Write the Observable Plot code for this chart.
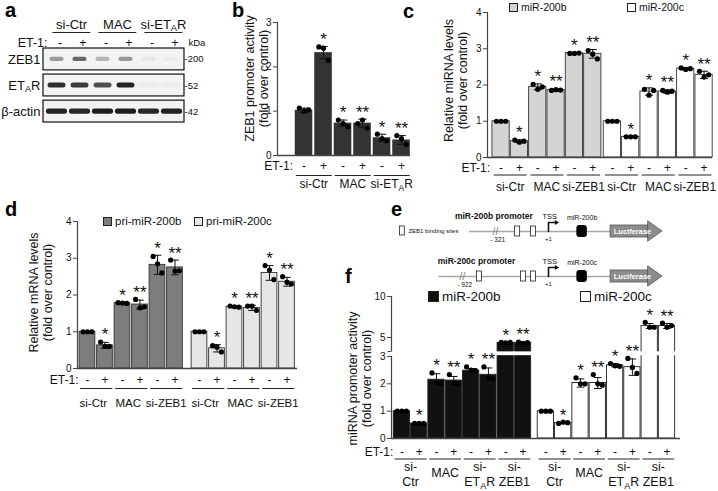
<!DOCTYPE html>
<html><head><meta charset="utf-8">
<script src="https://cdn.jsdelivr.net/npm/d3@7"></script>
<script src="https://cdn.jsdelivr.net/npm/@observablehq/plot@0.6"></script>
<style>
body{margin:0;background:#fff;}
#fig{position:relative;width:718px;height:491px;overflow:hidden;font-family:"Liberation Sans",Arial,sans-serif;background:#fff;}
#fig > svg{position:absolute;left:0;top:0;}
.lt{position:absolute;font-weight:bold;font-size:20px;line-height:20px;}
.lg{position:absolute;display:flex;align-items:center;white-space:nowrap;color:#111;}
.sw{display:inline-block;border:1px solid #222;box-sizing:border-box;margin-right:3px;}
</style></head><body><div id="fig"></div>
<script>
const W = 718, H = 491;
const FONT = '"Liberation Sans", Arial, sans-serif';
const signs = ["-", "+"];

// ---------- panel a : western blot ----------
const blotGroups = ["si-Ctr", "MAC", "si-ET_AR"];
const blotSigns = ["-", "+", "-", "+", "-", "+"];
const blotRows = ["ZEB1", "ET_AR", "β-actin"];
const blotKDa = ["200", "52", "42"];
const zeb1Band = [0.40, 0.62, 0.28, 0.40, 0.05, 0.04];
const etarBand = [0.88, 0.82, 0.72, 0.92, 0.03, 0.03];
const actinBand = [0.92, 0.90, 0.95, 0.95, 0.90, 0.92];
const bandWidth = [0.62, 0.78, 0.92];

// ---------- panel b ----------
const bGroups = ["si-Ctr", "MAC", "si-ET_AR"];
const bMean = [1.02, 2.32, 0.73, 0.73, 0.40, 0.35];
const bSD = [0.05, 0.14, 0.07, 0.09, 0.08, 0.10];
const bDots = [[1.07, 1.00, 1.03], [2.45, 2.42, 2.15], [0.80, 0.72, 0.65], [0.72, 0.80, 0.62], [0.48, 0.38, 0.33], [0.45, 0.38, 0.25]];
const bStars = ["", "*", "*", "**", "*", "**"];

// ---------- panel c ----------
const cGroups = ["si-Ctr", "MAC", "si-ZEB1"];
const c200bMean = [1.0, 0.45, 1.95, 1.86, 2.88, 2.86];
const c200bSD = [0, 0.04, 0.08, 0.03, 0.02, 0.12];
const c200bDots = [[1, 1, 1], [0.48, 0.42, 0.45], [2.02, 1.88, 1.95], [1.85, 1.87, 1.86], [2.87, 2.87, 2.88], [2.95, 2.85, 2.72]];
const c200bStars = ["", "*", "*", "**", "*", "**"];
const c200cMean = [1.0, 0.57, 1.82, 1.82, 2.45, 2.28];
const c200cSD = [0, 0.02, 0.1, 0.05, 0.03, 0.1];
const c200cDots = [[1, 1, 1], [0.57, 0.57, 0.57], [1.88, 1.72, 1.85], [1.85, 1.80, 1.83], [2.47, 2.43, 2.45], [2.38, 2.22, 2.28]];
const c200cStars = ["", "*", "*", "**", "*", "**"];

// ---------- panel d ----------
const dGroups = ["si-Ctr", "MAC", "si-ZEB1"];
const dPri200bMean = [1.0, 0.63, 1.78, 1.74, 2.82, 2.75];
const dPri200bSD = [0, 0.08, 0.02, 0.12, 0.26, 0.2];
const dPri200bDots = [[1, 1, 1], [0.72, 0.60, 0.60], [1.79, 1.78, 1.77], [1.88, 1.65, 1.68], [3.05, 2.85, 2.60], [2.95, 2.65, 2.66]];
const dPri200bStars = ["", "*", "*", "**", "*", "**"];
const dPri200cMean = [1.0, 0.55, 1.68, 1.65, 2.60, 2.36];
const dPri200cSD = [0, 0.1, 0.02, 0.07, 0.2, 0.12];
const dPri200cDots = [[1, 1, 1], [0.62, 0.58, 0.45], [1.70, 1.68, 1.67], [1.70, 1.70, 1.58], [2.80, 2.68, 2.42], [2.50, 2.35, 2.30]];
const dPri200cStars = ["", "*", "*", "**", "*", "**"];

// ---------- panel f ----------
const fGroups = ["si-Ctr", "MAC", "si-ET_AR", "si-ZEB1"];
const f200bMean = [1.0, 0.55, 2.15, 2.12, 2.48, 2.33, 4.35, 4.35];
const f200bSD = [0, 0.02, 0.22, 0.15, 0.08, 0.25, 0.06, 0.08];
const f200bDots = [[1, 1, 1], [0.55, 0.55, 0.55], [2.40, 2.05, 2.02], [2.34, 2.02, 2.00], [2.62, 2.50, 2.48], [2.62, 2.20, 2.18], [4.40, 4.35, 4.42], [4.45, 4.30, 4.38]];
const f200bStars = ["", "*", "*", "**", "*", "**", "*", "**"];
const f200cMean = [1.0, 0.57, 2.03, 2.03, 2.68, 2.61, 6.4, 6.4];
const f200cSD = [0, 0.03, 0.15, 0.2, 0.06, 0.3, 0.3, 0.3];
const f200cDots = [[1, 1, 1], [0.55, 0.60, 0.58], [2.22, 2.00, 2.00], [2.34, 2.00, 1.95], [2.74, 2.66, 2.64], [2.93, 2.60, 2.38], [6.85, 6.25, 6.25], [6.75, 6.25, 6.45]];
const f200cStars = ["", "*", "*", "**", "*", "**", "*", "**"];
const fTickValues = [0, 1, 2, 3, 5, 10];

// ---------- panel e (schematic) ----------
const eConstructs = ["miR-200b", "miR-200c"];
const ePromStart = ["- 321", "- 922"];
const eRowY = [31, 76];
const eLineFrom = [29.5, 19.3];
const eBreakAt = [38.3, 27.3];
const eSites = [[45.7, 51.0], [33.0, 47.7, 51.0]];
const ePromLabelX = [37.8, 32];
const eTSS = 56, eMiR = 67.2, eLucFrom = 76.7, eLucTo = 89.3, eLucTip = 94;

// ================= helpers =================
const fig = document.getElementById("fig");
function subify(svg) {
  const NS = "http://www.w3.org/2000/svg";
  svg.querySelectorAll("text, tspan").forEach(t => {
    if (t.childElementCount === 0 && t.textContent.includes("_A")) {
      const parts = t.textContent.split("_A");
      t.textContent = parts[0];
      const a = document.createElementNS(NS, "tspan");
      a.setAttribute("dy", "2.5"); a.style.fontSize = "72%"; a.textContent = "A";
      const r = document.createElementNS(NS, "tspan");
      r.setAttribute("dy", "-2.5"); r.textContent = parts[1];
      t.append(a, r);
    }
  });
}
function addPlot(opts) {
  const svg = Plot.plot(Object.assign({
    width: W, height: H,
    style: {background: "transparent", fontFamily: FONT, fontSize: "10px", overflow: "visible", color: "#111"},
    color: {type: "identity"}
  }, opts));
  subify(svg);
  fig.appendChild(svg);
  return svg;
}
function addDiv(cls, html, css) {
  const d = document.createElement("div");
  d.className = cls; d.innerHTML = html;
  Object.assign(d.style, css);
  fig.appendChild(d);
}

function barPanel(c) {
  const tf = c.tf || (v => v);
  const R = [], D = [], G = [];
  c.series.forEach((s, si) => {
    const n = s.mean.length;
    const off = si * (n + c.gap);
    s.mean.forEach((m, i) => {
      const pos = off + i;
      const top = Math.max(m + s.sd[i], ...s.dots[i]);
      R.push({pos, mean: m, sd: s.sd[i], star: s.stars[i], fill: s.fill, top, sign: signs[i % 2]});
      s.dots[i].forEach((v, k) => D.push({x: pos + (k - 1) * c.spread, v}));
    });
    c.groups.forEach((g, gi) => G.push({p0: off + 2 * gi, p1: off + 2 * gi + 1, label: g, gi}));
  });
  const bw = c.bw, cw = c.cap;
  const ml = c.m[3], mt = c.m[0], mb = c.m[2];
  const frameMid = mt + (H - mt - mb) / 2;
  const E = R.filter(d => d.sd > 0);
  const labDx = c.labDx || [0, 0, 0, 0];
  const marks = [
    Plot.rect(R, {x1: d => d.pos - bw / 2, x2: d => d.pos + bw / 2, y1: () => 0, y2: d => tf(d.mean),
      fill: d => d.fill, stroke: c.barStroke || "none", strokeWidth: 0.9}),
  ];
  if (c.breakGap) {
    marks.push(Plot.rect(R.filter(d => d.mean > 3), {x1: d => d.pos - bw / 2 - 0.06, x2: d => d.pos + bw / 2 + 0.06,
      y1: () => c.breakGap[0], y2: () => c.breakGap[1], fill: "#fff"}));
  }
  marks.push(
    Plot.ruleX(E, {x: "pos", y1: d => tf(d.mean - d.sd), y2: d => tf(d.mean + d.sd), stroke: "#111", strokeWidth: 1}),
    Plot.link(E, {x1: d => d.pos - cw, x2: d => d.pos + cw, y1: d => tf(d.mean + d.sd), y2: d => tf(d.mean + d.sd), stroke: "#111", strokeWidth: 1}),
    Plot.link(E, {x1: d => d.pos - cw, x2: d => d.pos + cw, y1: d => tf(d.mean - d.sd), y2: d => tf(d.mean - d.sd), stroke: "#111", strokeWidth: 1}),
    Plot.dot(D, {x: "x", y: d => tf(d.v), r: c.r, fill: "#000", stroke: "none"}),
    Plot.text(R.filter(d => d.star), {x: "pos", y: d => tf(d.top), text: "star", fontSize: 17, dy: -7}),
    Plot.ruleY([0], {stroke: "#444", strokeWidth: 1.3}),
    Plot.ruleX(c.axisSegs, {x: () => c.xDomain[0], y1: d => d[0], y2: d => d[1], stroke: "#444", strokeWidth: 1.2}),
    Plot.axisY({ticks: c.ticks, tickFormat: c.tickFormat || (v => String(v)), tickSize: 4, tickPadding: 2, fontSize: 10, label: null, stroke: "#444"}),
    // x annotation rows
    Plot.text(R, {x: "pos", y: () => 0, text: "sign", dy: c.dyEt, fontSize: 12}),
    Plot.text(["ET-1:"], {x: () => 0, y: () => 0, text: d => d, textAnchor: "end", dx: c.etDx, dy: c.dyEt, fontSize: 12}),
    Plot.link(G, {x1: g => g.p0 - c.ul, x2: g => g.p1 + c.ul, y1: () => 0, y2: () => 0, dy: c.dyUl, stroke: "#222", strokeWidth: 1}),
    Plot.text([c.ylab[0]], {frameAnchor: "left", textAnchor: "middle", text: d => d, rotate: -90, dx: c.ylx[0] - ml, dy: c.yly - frameMid, fontSize: 12.5}),
    Plot.text([c.ylab[1]], {frameAnchor: "left", textAnchor: "middle", text: d => d, rotate: -90, dx: c.ylx[1] - ml, dy: c.yly - frameMid, fontSize: 12.5})
  );
  const labFs = c.labFs || 12;
  if (c.twoLine) {
    const one = G.filter(g => !g.label.startsWith("si-"));
    const two = G.filter(g => g.label.startsWith("si-"));
    marks.push(
      Plot.text(one, {x: g => (g.p0 + g.p1) / 2, y: () => 0, text: "label", dy: c.dyLab[2], fontSize: labFs}),
      Plot.text(two, {x: g => (g.p0 + g.p1) / 2, y: () => 0, text: () => "si-", dy: c.dyLab[0], fontSize: labFs}),
      Plot.text(two, {x: g => (g.p0 + g.p1) / 2, y: () => 0, text: g => g.label.slice(3), dy: c.dyLab[1], fontSize: labFs})
    );
  } else {
    [0, 1, 2].forEach(gi => marks.push(Plot.text(G.filter(g => g.gi === gi), {x: g => (g.p0 + g.p1) / 2, y: () => 0, text: "label", dy: c.dyLab, dx: labDx[gi], fontSize: labFs})));
  }
  if (c.extra) marks.push(...c.extra);
  addPlot({
    marginTop: c.m[0], marginRight: c.m[1], marginBottom: c.m[2], marginLeft: c.m[3],
    x: {domain: c.xDomain, axis: null},
    y: {domain: c.yDomain},
    marks
  });
}

// ================= panel a =================
(function () {
  const bands = [];
  [zeb1Band, etarBand, actinBand].forEach((row, r) => row.forEach((k, i) => bands.push({lane: i + 1, row: r, k, w: bandWidth[r]})));
  const h = [0.08, 0.1, 0.1];
  const svg = addPlot({
    marginTop: 48, marginRight: W - 184, marginBottom: H - 122, marginLeft: 43,
    x: {domain: [0.413, 6.543], axis: null},
    y: {domain: [2.42, -0.42], axis: null},
    marks: [
      Plot.rect(blotRows, {x1: () => 0.413, x2: () => 6.543, y1: (d, i) => i - 0.42, y2: (d, i) => i + 0.42, fill: "#f3f3f3", stroke: "#111", strokeWidth: 1.2}),
      Plot.rect(bands, {x1: d => d.lane - d.w / 2, x2: d => d.lane + d.w / 2, y1: d => d.row - h[d.row], y2: d => d.row + h[d.row],
        fill: "#111", fillOpacity: d => d.k, rx: 2.5, ariaLabel: "bands"}),
      Plot.text(blotRows, {x: () => 0.413, y: (d, i) => i, text: d => d, textAnchor: "end", dx: -3, fontSize: 13}),
      Plot.text(blotKDa, {x: () => 6.543, y: (d, i) => i, text: d => "-" + d, textAnchor: "start", dx: 0, fontSize: 9.5}),
      Plot.text(["kDa"], {x: () => 6.543, y: () => -0.42, text: d => d, textAnchor: "start", dx: 4, dy: -6, fontSize: 9.5}),
      Plot.text(blotSigns, {x: (d, i) => i + 1, y: () => -0.42, text: d => d, dx: 3, dy: -6, fontSize: 12.5}),
      Plot.text(["ET-1:"], {x: () => 0.413, y: () => -0.42, text: d => d, textAnchor: "end", dx: 4, dy: -6, fontSize: 12.5}),
      Plot.link(blotGroups, {x1: (d, i) => 2 * i + 1 - 0.2, x2: (d, i) => 2 * i + 2 + 0.45, y1: () => -0.42, y2: () => -0.42, dy: -16, stroke: "#222"}),
      Plot.text(blotGroups, {x: (d, i) => 2 * i + 1.5, y: () => -0.42, text: d => d, dx: 3, dy: -24, fontSize: 13})
    ]
  });
  const g = svg.querySelector('g[aria-label="bands"]');
  if (g) g.style.filter = "blur(0.9px)";
})();

// ================= panel b =================
barPanel({
  m: [22, W - 410, H - 155, 277],
  xDomain: [-1.36, 5.46], yDomain: [0, 3], gap: 0,
  series: [{mean: bMean, sd: bSD, dots: bDots, stars: bStars, fill: "#333333"}],
  groups: bGroups, bw: 0.9, cap: 0.22, spread: 0.24, r: 2.6,
  ticks: [0, 1, 2, 3], axisSegs: [[0, 3]],
  dyEt: 11, dyUl: 20, dyLab: 29, etDx: -11, ul: 0.42,
  ylab: ["ZEB1 promoter activity", "(fold over control)"], ylx: [249, 263], yly: 78
});

// ================= panel c =================
barPanel({
  m: [12, W - 712, H - 157, 487],
  xDomain: [-0.74, 11.53], yDomain: [0, 4], gap: 0.07,
  series: [
    {mean: c200bMean, sd: c200bSD, dots: c200bDots, stars: c200bStars, fill: "#d4d4d4"},
    {mean: c200cMean, sd: c200cSD, dots: c200cDots, stars: c200cStars, fill: "#ffffff"}
  ],
  barStroke: "#333",
  groups: cGroups, bw: 0.94, cap: 0.22, spread: 0.25, r: 2.6,
  ticks: [0, 1, 2, 3, 4], axisSegs: [[0, 4]],
  dyEt: 11, dyUl: 17.5, dyLab: 29.5, etDx: -11, ul: 0.4,
  ylab: ["Relative miRNA levels", "(fold over control)"], ylx: [448, 462], yly: 80
});

// ================= panel d =================
barPanel({
  m: [221, W - 297, H - 368, 77],
  xDomain: [-0.57, 12.0], yDomain: [0, 4], gap: 0.4,
  series: [
    {mean: dPri200bMean, sd: dPri200bSD, dots: dPri200bDots, stars: dPri200bStars, fill: "#7d7d7d"},
    {mean: dPri200cMean, sd: dPri200cSD, dots: dPri200cDots, stars: dPri200cStars, fill: "#e6e6e6"}
  ],
  barStroke: "#333",
  groups: dGroups, bw: 0.9, cap: 0.22, spread: 0.25, r: 2.6,
  ticks: [0, 1, 2, 3, 4], axisSegs: [[0, 4]],
  dyEt: 12, dyUl: 20, dyLab: 35, etDx: -9, ul: 0.42, labFs: 11.5, labDx: [-3, -3, 0],
  ylab: ["Relative mRNA levels", "(fold over control)"], ylx: [33, 47], yly: 292
});

// ================= panel f (broken axis) =================
const fBreak = v => v <= 3 ? v : 3.695 + (v - 5) * 0.3;
barPanel({
  m: [296, W - 680, H - 438, 391],
  xDomain: [-0.6, 16.1], yDomain: [0, fBreak(10)], gap: 0.32,
  tf: fBreak,
  series: [
    {mean: f200bMean, sd: f200bSD, dots: f200bDots, stars: f200bStars, fill: "#111111"},
    {mean: f200cMean, sd: f200cSD, dots: f200cDots, stars: f200cStars, fill: "#ffffff"}
  ],
  barStroke: "#222",
  groups: fGroups, bw: 0.94, cap: 0.22, spread: 0.26, r: 2.6,
  ticks: fTickValues.map(fBreak), tickFormat: v => String(fTickValues[fTickValues.map(fBreak).indexOf(v)]),
  axisSegs: [[0, 3], [3.185, fBreak(10)]],
  breakGap: [3.03, 3.17],
  dyEt: 14, dyUl: 20.5, dyLab: [28.5, 43.5, 34], etDx: -8.5, ul: 0.42, twoLine: true, labFs: 12.5,
  ylab: ["miRNA promoter activity", "(fold over control)"], ylx: [352, 366], yly: 378,
  extra: [Plot.link([3.185], {x1: () => -0.6 - 0.23, x2: () => -0.6, y1: d => d, y2: d => d, stroke: "#444"})]
});

// ================= panel e =================
(function () {
  const rows = eConstructs.map((name, i) => ({name, y: eRowY[i], from: eLineFrom[i], brk: eBreakAt[i], start: ePromStart[i], lx: ePromLabelX[i]}));
  const sites = rows.flatMap((r, i) => eSites[i].map(s => ({x: s, y: r.y})));
  const tss = rows.flatMap((r, i) => [[eTSS, r.y], [eTSS, r.y - 9], [eTSS + 2.2, r.y - 9]].map(([x, y]) => ({x, y, z: i})));
  const tri = rows.flatMap((r, i) => [{x: eLucTo, y1: r.y - 10, y2: r.y + 10, z: i}, {x: eLucTip, y1: r.y, y2: r.y, z: i}]);
  addPlot({
    marginTop: 200, marginBottom: H - 300, marginLeft: 380, marginRight: W - 680,
    x: {domain: [0, 100], axis: null},
    y: {domain: [100, 0], axis: null},
    marks: [
      Plot.link(rows, {x1: "from", x2: () => eLucFrom, y1: "y", y2: "y", stroke: "#a8a8a8", strokeWidth: 1.6}),
      Plot.text(rows, {x: "brk", y: "y", text: () => "//", fontSize: 10, fill: "#777"}),
      Plot.text(rows, {x: d => d.brk + 0.8, y: d => d.y + 8, text: "start", fontSize: 6.5}),
      Plot.rect(sites, {x1: d => d.x - 0.85, x2: d => d.x + 0.85, y1: d => d.y - 5, y2: d => d.y + 5, fill: "#fff", stroke: "#222", strokeWidth: 0.8}),
      Plot.line(tss, {x: "x", y: "y", z: "z", stroke: "#111", strokeWidth: 1.6}),
      Plot.dot(rows, {x: () => eTSS + 2.6, y: d => d.y - 9, symbol: "triangle", rotate: 90, r: 1.8, fill: "#111"}),
      Plot.text(rows, {x: () => eTSS + 0.4, y: d => d.y - 15, text: () => "TSS", fontSize: 7.5}),
      Plot.text(rows, {x: () => eTSS, y: d => d.y + 8, text: () => "+1", fontSize: 6}),
      Plot.rect(rows, {x1: () => eMiR - 1.75, x2: () => eMiR + 1.75, y1: d => d.y - 6, y2: d => d.y + 6, fill: "#000", rx: 3}),
      Plot.text(rows, {x: () => eMiR, y: d => d.y - 14, text: "name", fontSize: 7}),
      Plot.rect(rows, {x1: () => eLucFrom, x2: () => eLucTo, y1: d => d.y - 6, y2: d => d.y + 6, fill: "#8c8c8c", stroke: "#555", strokeWidth: 0.8}),
      Plot.areaY(tri, {x: "x", y1: "y1", y2: "y2", z: "z", fill: "#8c8c8c", stroke: "#555", strokeWidth: 0.8}),
      Plot.text(rows, {x: () => (eLucFrom + eLucTo) / 2 + 1, y: "y", text: () => "Luciferase", fill: "#fff", fontSize: 7.5, fontWeight: "bold"}),
      Plot.text(rows, {x: "lx", y: d => d.y - 15, text: d => d.name + " promoter", fontSize: 8.5, fontWeight: "bold"}),
      Plot.rect([0], {x1: () => 6.5, x2: () => 8.1, y1: () => 26, y2: () => 35, fill: "#fff", stroke: "#222", strokeWidth: 0.8}),
      Plot.text(["ZEB1 binding sites"], {x: () => 9.3, y: () => 31, text: d => d, textAnchor: "start", fontSize: 6})
    ]
  });
})();

// ================= letters & legends =================
[["a", 5, 0], ["b", 232, 0], ["c", 403, 1], ["d", 5, 199], ["e", 391, 199], ["f", 345, 266]].forEach(([t, x, y]) =>
  addDiv("lt", t, {left: x + "px", top: y + "px"}));
const legends = [
  {l: 509, t: 2, s: 9, fill: "#d4d4d4", fs: 10.5, text: "miR-200b"},
  {l: 627, t: 2, s: 9, fill: "#ffffff", fs: 10.5, text: "miR-200c"},
  {l: 103, t: 216, s: 9, fill: "#7d7d7d", fs: 11.5, text: "pri-miR-200b"},
  {l: 194, t: 216, s: 9, fill: "#e6e6e6", fs: 11.5, text: "pri-miR-200c"},
  {l: 428, t: 290, s: 11, fill: "#111111", fs: 13.5, text: "miR-200b"},
  {l: 580, t: 290, s: 11, fill: "#ffffff", fs: 13.5, text: "miR-200c"}
];
legends.forEach(g => addDiv("lg",
  `<span class="sw" style="width:${g.s}px;height:${g.s}px;background:${g.fill}"></span><span>${g.text}</span>`,
  {left: g.l + "px", top: g.t + "px", fontSize: g.fs + "px", lineHeight: (g.s + 2) + "px"}));
</script></body></html>
